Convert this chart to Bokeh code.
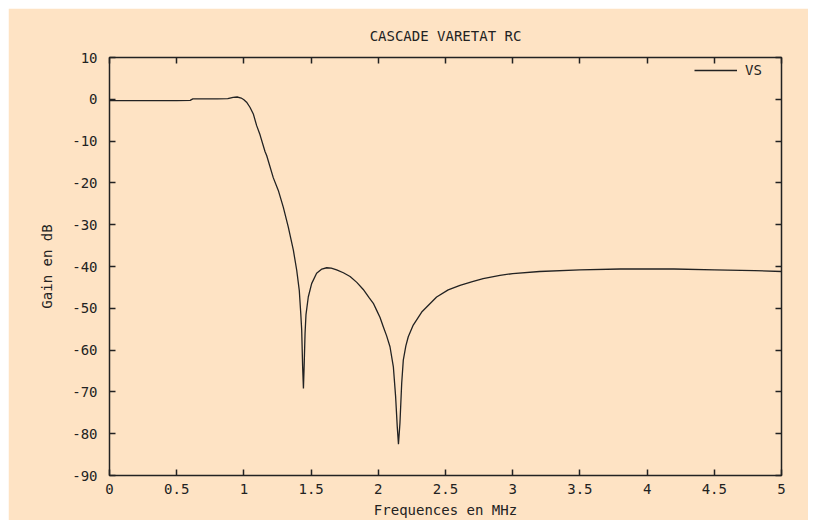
from bokeh.plotting import figure
from bokeh.models import (LinearAxis, FixedTicker, Legend, LegendItem, ColumnDataSource)
from bokeh.embed import file_html
from bokeh.resources import INLINE

# --- data ---
freq_mhz = [0, 0.1, 0.2, 0.3, 0.4, 0.5, 0.6, 0.62, 0.7, 0.8, 0.88, 0.92, 0.95, 0.98,
            1.0, 1.02, 1.045, 1.07, 1.095, 1.12, 1.157, 1.17, 1.219, 1.256, 1.293, 1.33,
            1.368, 1.393, 1.412, 1.423, 1.43, 1.437, 1.443, 1.449, 1.455, 1.462, 1.479,
            1.504, 1.541, 1.58, 1.616, 1.65, 1.69, 1.74, 1.79, 1.84, 1.888, 1.93, 1.963,
            1.988, 2.013, 2.037, 2.062, 2.087, 2.112, 2.129, 2.141, 2.15, 2.161, 2.174,
            2.186, 2.205, 2.223, 2.26, 2.323, 2.434, 2.52, 2.608, 2.7, 2.78, 2.905, 3.0,
            3.2, 3.5, 3.8, 4.0, 4.2, 4.5, 4.8, 5.0]
gain_db = [-0.3, -0.3, -0.3, -0.3, -0.3, -0.3, -0.25, 0.1, 0.1, 0.1, 0.15, 0.45, 0.55, 0.3,
           -0.1, -0.7, -1.9, -3.5, -6.3, -8.5, -12.5, -13.5, -18.8, -21.8, -25.8, -30.5,
           -36.1, -40.9, -45.7, -51.2, -55.2, -64.0, -69.2, -63.0, -56.0, -51.5, -47.3,
           -44.1, -41.6, -40.6, -40.3, -40.4, -40.8, -41.5, -42.4, -43.8, -45.5, -47.4, -48.8,
           -50.5, -52.2, -54.4, -56.6, -59.2, -64.0, -71.2, -78.3, -82.5, -77.5, -68.0,
           -62.4, -59.0, -56.8, -54.0, -50.9, -47.3, -45.6, -44.5, -43.6, -42.9, -42.1, -41.7,
           -41.2, -40.8, -40.6, -40.6, -40.6, -40.8, -41.0, -41.2]

x_ticks = [0, 0.5, 1, 1.5, 2, 2.5, 3, 3.5, 4, 4.5, 5]
x_tick_labels = ["0", "0.5", "1", "1.5", "2", "2.5", "3", "3.5", "4", "4.5", "5"]
y_ticks = [-90, -80, -70, -60, -50, -40, -30, -20, -10, 0, 10]
y_tick_labels = ["-90", "-80", "-70", "-60", "-50", "-40", "-30", "-20", "-10", "0", "10"]
series_name = "VS"

BG = "#FEE3C4"
INK = "#222222"
FONT = "DejaVu Sans Mono"
FS = "14px"

p = figure(frame_width=672, frame_height=418, output_backend="svg", toolbar_location=None,
           x_range=(0, 5), y_range=(-90, 10),
           min_border_left=101, min_border_right=27, min_border_top=49, min_border_bottom=40,
           background_fill_color=BG, border_fill_color=BG,
           outline_line_color=INK, outline_line_width=1.5,
           title="CASCADE VARETAT RC")
p.margin = (8, 8, 8, 8)
p.title.align = "center"
p.title.vertical_align = "middle"
p.title.text_font = FONT
p.title.text_font_size = FS
p.title.text_font_style = "normal"
p.title.text_color = INK
p.title.standoff = 26

p.xgrid.visible = False
p.ygrid.visible = False

def style_axis(ax, ticks, labels, show_labels=True):
    ax.ticker = FixedTicker(ticks=ticks)
    ax.major_label_overrides = {t: l for t, l in zip(ticks, labels)} if show_labels else {t: "" for t in ticks}
    ax.axis_line_color = None
    ax.major_tick_in = 6
    ax.major_tick_out = 0
    ax.major_tick_line_color = INK
    ax.major_tick_line_width = 1.5
    ax.minor_tick_line_color = None
    ax.major_label_text_font = FONT
    ax.major_label_text_font_size = FS if show_labels else "0px"
    ax.major_label_text_color = INK
    ax.axis_label_text_font = FONT
    ax.axis_label_text_font_size = FS
    ax.axis_label_text_font_style = "normal"
    ax.axis_label_text_color = INK

xa = p.xaxis[0]
style_axis(xa, x_ticks, x_tick_labels)
xa.axis_label = "Frequences en MHz"
xa.major_label_standoff = 8
xa.axis_label_standoff = 5

ya = p.yaxis[0]
style_axis(ya, y_ticks, y_tick_labels)
ya.axis_label = "Gain en dB"
ya.major_label_standoff = 12
ya.axis_label_standoff = 14

top = LinearAxis()
style_axis(top, x_ticks, x_tick_labels, show_labels=False)
top.major_label_standoff = 0
p.add_layout(top, "above")

right = LinearAxis()
style_axis(right, y_ticks, y_tick_labels, show_labels=False)
right.major_label_standoff = 0
p.add_layout(right, "right")

src = ColumnDataSource(dict(f=freq_mhz, g=gain_db))
r = p.line("f", "g", source=src, line_color=INK, line_width=1.3)

legend = Legend(items=[LegendItem(label=series_name, renderers=[r])],
                location=(585, 395), background_fill_alpha=0, border_line_color=None,
                margin=0, padding=0, glyph_width=43, glyph_height=20, label_standoff=8,
                label_text_font=FONT, label_text_font_size=FS, label_text_color=INK)
p.add_layout(legend, "center")

open("out.html", "w").write(file_html(p, INLINE))
